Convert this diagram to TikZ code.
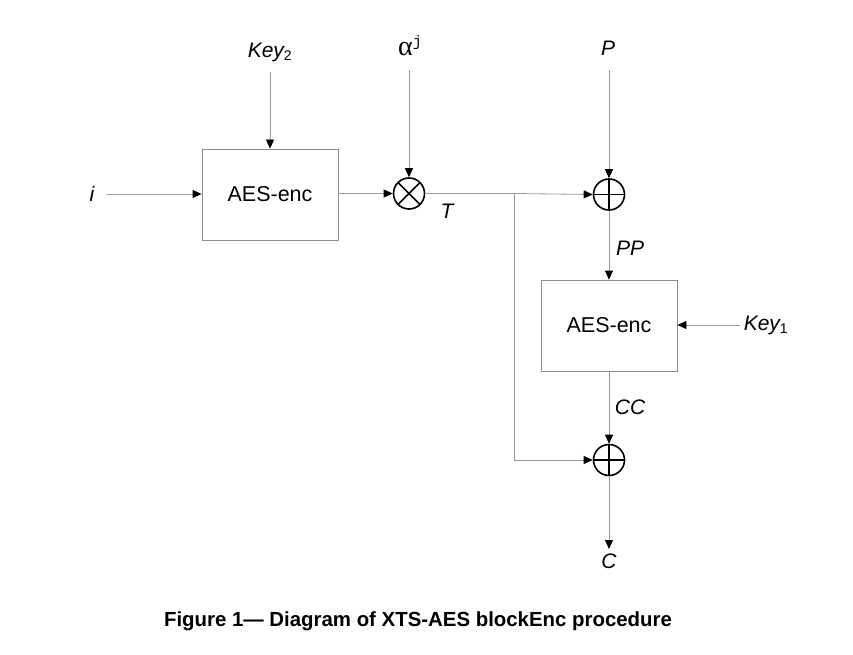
\documentclass[tikz,border=0pt]{standalone}
\usepackage{fontspec}
\setmainfont{Liberation Sans}
\newfontfamily\serifalpha{Liberation Serif}
\newfontfamily\monoj{Liberation Mono}
\usetikzlibrary{arrows.meta}
\tikzset{
  x=1pt, y=-1pt,
  lbl/.style={font=\fontsize{21}{24}\selectfont\itshape, inner sep=0pt},
  encbox/.style={draw=black!45, line width=0.8pt, minimum width=136pt, minimum height=91pt, inner sep=0pt, font=\fontsize{21.5}{24}\selectfont},
  conn/.style={draw=black!40, line width=0.8pt},
  arr/.style={conn, -{Triangle[length=9pt,width=8pt,fill=black,color=black]}},
  opl/.style={circle, draw=black, line width=1.6pt, minimum size=31pt, inner sep=0pt,
    path picture={\draw[line width=1.6pt] (path picture bounding box.north) -- (path picture bounding box.south);
                  \draw[line width=1.6pt] (path picture bounding box.west) -- (path picture bounding box.east);}},
  otm/.style={circle, draw=black, line width=1.6pt, minimum size=31pt, inner sep=0pt,
    path picture={\draw[line width=1.6pt] (path picture bounding box.north west) -- (path picture bounding box.south east);
                  \draw[line width=1.6pt] (path picture bounding box.north east) -- (path picture bounding box.south west);}}
}
\begin{document}
\begin{tikzpicture}
\useasboundingbox (0,0) rectangle (853,655);
% blocks
\node[encbox] (enc1) at (270,194.5) {AES-enc};
\node[encbox] (enc2) at (609,325.5) {AES-enc};
\node[otm] (mul) at (409,193.5) {};
\node[opl] (x1) at (609,194.5) {};
\node[opl] (x2) at (609,460) {};
% labels
\node[lbl] (i) at (92,194) {i};
\node[lbl] (key2) at (270,52) {Key\textsubscript{\upshape\fontsize{14}{15}\selectfont 2}};
\node[inner sep=0pt] (alpha) at (410,46) {\fontsize{28}{30}\selectfont\serifalpha α\raisebox{9pt}{\monoj\fontsize{15}{16}\selectfont j}};
\node[lbl] (P) at (608,48) {P};
\node[lbl] (T) at (447,211) {T};
\node[lbl] (PP) at (630,248) {PP};
\node[lbl] (key1) at (766,325) {Key\textsubscript{\upshape\fontsize{14}{15}\selectfont 1}};
\node[lbl] (CC) at (630,407) {CC};
\node[lbl] (C) at (609,561) {C};
\node[inner sep=0pt, font=\fontsize{20.4}{24}\selectfont\bfseries] (cap) at (418,621) {Figure 1— Diagram of XTS-AES blockEnc procedure};
% connector ends
\coordinate (iin) at (107,194);
\coordinate (k2in) at (270,72);
\coordinate (ain) at (409,70);
\coordinate (pin) at (609,70);
\coordinate (k1in) at (740,325);
\coordinate (cout) at (609,549);
\coordinate (br) at (514,193.5);
\coordinate (brd) at (514,460);
% connectors
\draw[arr] (iin) -- (enc1.west |- iin);
\draw[arr] (k2in) -- (enc1.north);
\draw[arr] (enc1.east |- mul) -- (mul.west);
\draw[arr] (ain) -- (mul.north);
\draw[arr] (pin) -- (x1.north);
\draw[arr] (mul.east) -- (br) -- (x1.west);
\draw[arr] (x1.south) -- (enc2.north);
\draw[arr] (k1in) -- (enc2.east |- k1in);
\draw[arr] (enc2.south) -- (x2.north);
\draw[arr] (br) -- (brd) -- (x2.west);
\draw[arr] (x2.south) -- (cout);
\end{tikzpicture}
\end{document}
